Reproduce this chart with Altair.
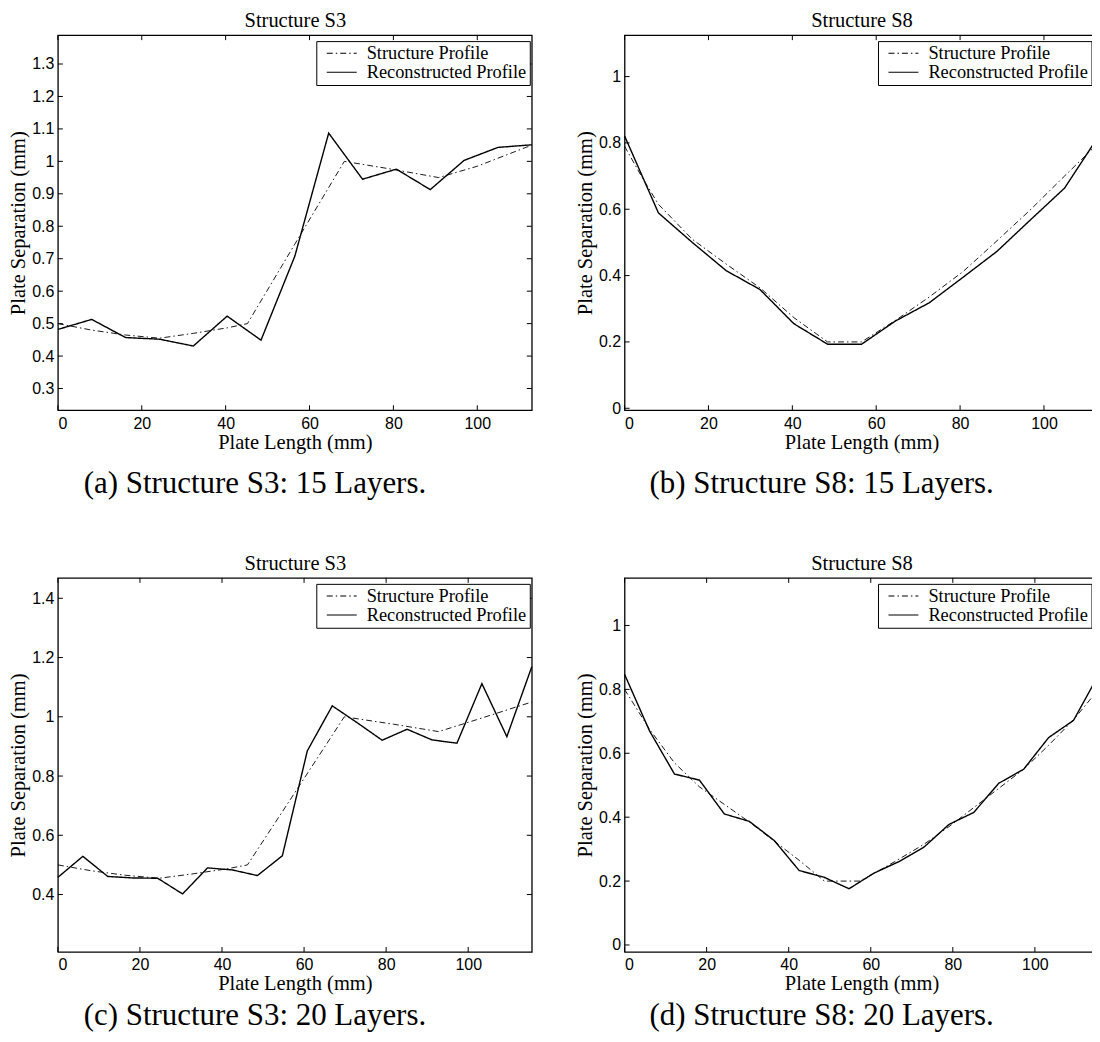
import altair as alt
import pandas as pd

SERIES = ["Structure Profile", "Reconstructed Profile"]
X_TICKS = [0, 20, 40, 60, 80, 100]

# ---------------- (a) Structure S3, 15 layers ----------------
a_struct_x = [0, 8.07, 16.1, 24.2, 32.3, 40.4, 45.2, 56.5, 68.3, 80.0, 90.8, 100.0, 113.0]
a_struct_y = [0.500, 0.480, 0.465, 0.455, 0.470, 0.487, 0.500, 0.745, 1.000, 0.975, 0.950, 0.985, 1.050]
a_rec_x = [0, 8.07, 16.14, 24.21, 32.29, 40.36, 48.43, 56.5, 64.57, 72.64, 80.71, 88.79, 96.86, 104.93, 113.0]
a_rec_y = [0.482, 0.513, 0.457, 0.452, 0.431, 0.523, 0.449, 0.708, 1.087, 0.945, 0.976, 0.913, 1.003, 1.043, 1.051]
a_ydom = [0.233, 1.389]
a_yticks = [0.3, 0.4, 0.5, 0.6, 0.7, 0.8, 0.9, 1.0, 1.1, 1.2, 1.3]

# ---------------- (b) Structure S8, 15 layers ----------------
b_struct_x = [0, 4.0, 8.07, 16.1, 24.2, 32.3, 40.4, 48.4, 56.5, 64.6, 72.6, 80.7, 88.8, 96.9, 104.9, 113.0]
b_struct_y = [0.790, 0.700, 0.615, 0.510, 0.435, 0.363, 0.273, 0.200, 0.200, 0.265, 0.335, 0.412, 0.505, 0.600, 0.700, 0.800]
b_rec_x = [0, 8.07, 16.14, 24.21, 32.29, 40.36, 48.43, 56.5, 64.57, 72.64, 80.71, 88.79, 96.86, 104.93, 113.0]
b_rec_y = [0.821, 0.589, 0.500, 0.415, 0.358, 0.255, 0.193, 0.193, 0.263, 0.318, 0.395, 0.473, 0.569, 0.664, 0.820]
b_ydom = [-0.006, 1.125]
b_yticks = [0, 0.2, 0.4, 0.6, 0.8, 1.0]

# ---------------- (c) Structure S3, 20 layers ----------------
c_struct_x = [0, 8.25, 16.5, 24.7, 33.0, 41.3, 46.2, 57.8, 69.8, 81.8, 92.8, 102.0, 115.5]
c_struct_y = [0.500, 0.480, 0.465, 0.455, 0.470, 0.487, 0.500, 0.745, 1.000, 0.975, 0.950, 0.990, 1.050]
c_rec_x = [0, 6.08, 12.16, 18.24, 24.32, 30.39, 36.47, 42.55, 48.63, 54.71, 60.79, 66.87, 72.95, 79.03,
           85.11, 91.18, 97.26, 103.34, 109.42, 115.5]
c_rec_y = [0.458, 0.529, 0.461, 0.456, 0.455, 0.402, 0.490, 0.483, 0.464, 0.531, 0.885, 1.037, 0.980, 0.921,
           0.958, 0.922, 0.911, 1.112, 0.933, 1.169]
c_ydom = [0.206, 1.469]
c_yticks = [0.4, 0.6, 0.8, 1.0, 1.2, 1.4]

# ---------------- (d) Structure S8, 20 layers ----------------
d_struct_x = [0, 6.08, 12.16, 18.24, 24.32, 30.39, 36.47, 42.55, 48.7, 57.5, 66.0, 72.95, 79.03, 85.11,
              91.18, 97.26, 103.34, 109.42, 115.5]
d_struct_y = [0.800, 0.675, 0.570, 0.495, 0.440, 0.385, 0.325, 0.265, 0.200, 0.200, 0.262, 0.315, 0.370, 0.430,
              0.490, 0.550, 0.625, 0.705, 0.800]
d_rec_x = c_rec_x
d_rec_y = [0.847, 0.670, 0.535, 0.516, 0.410, 0.387, 0.327, 0.233, 0.212, 0.176, 0.225, 0.261, 0.306, 0.377,
           0.415, 0.506, 0.550, 0.649, 0.703, 0.845]
d_ydom = [-0.022, 1.149]
d_yticks = [0, 0.2, 0.4, 0.6, 0.8, 1.0]

SERIF = "Liberation Serif"
SANS = "Liberation Sans"
W = 475


def make_panel(title, caption, sx, sy, rx, ry, xmax, ydom, yticks, h, cap_offset, leg_x):
    xs = alt.Scale(domain=[0, xmax], nice=False, zero=False)
    ys = alt.Scale(domain=ydom, nice=False, zero=False)
    dash_scale = alt.Scale(domain=SERIES, range=[[6, 3, 1.5, 3], [1, 0]])
    sdf = pd.DataFrame({"x": sx, "y": sy, "series": SERIES[0]})
    rdf = pd.DataFrame({"x": rx, "y": ry, "series": SERIES[1]})

    xaxis = alt.Axis(orient="bottom", title="Plate Length (mm)", values=X_TICKS, ticks=False,
                     domain=False, grid=False, labelFont=SANS, labelFontSize=16, labelPadding=5,
                     labelColor="black", titleFont=SERIF, titleFontSize=20.5,
                     titleFontWeight="normal", titlePadding=1, titleColor="black")
    yaxis = alt.Axis(orient="left", title="Plate Separation (mm)", values=yticks, format="~g",
                     ticks=False, domain=False, grid=False, labelFont=SANS, labelFontSize=16,
                     labelPadding=4, labelColor="black", titleFont=SERIF, titleFontSize=20.5,
                     titleFontWeight="normal", titlePadding=3, titleColor="black")
    topaxis = alt.Axis(orient="top", title=title, labels=False, ticks=False, domain=False,
                       grid=False, titleFont=SERIF, titleFontSize=20.5,
                       titleFontWeight="normal", titlePadding=4.5, titleColor="black")
    legend = alt.Legend(title=None, orient="none", legendX=leg_x, legendY=6,
                        symbolType="stroke", symbolSize=900, symbolStrokeColor="black",
                        symbolStrokeWidth=1.1, labelFont=SERIF, labelFontSize=18.4,
                        labelColor="black", labelOffset=9, symbolOffset=6.5, padding=3,
                        rowPadding=0, clipHeight=18.4, strokeColor="black",
                        fillColor="white")

    s_line = alt.Chart(sdf).mark_line(color="black", strokeWidth=0.9).encode(
        x=alt.X("x:Q", scale=xs, axis=None),
        y=alt.Y("y:Q", scale=ys, axis=yaxis),
        strokeDash=alt.StrokeDash("series:N", scale=dash_scale, legend=legend),
    )
    r_line = alt.Chart(rdf).mark_line(color="black", strokeWidth=1.4).encode(
        x=alt.X("x:Q", scale=xs, axis=xaxis),
        y=alt.Y("y:Q", scale=ys, axis=yaxis),
        strokeDash=alt.StrokeDash("series:N", scale=dash_scale, legend=legend),
    )

    ytk = pd.DataFrame({"v": yticks})
    xtk = pd.DataFrame({"v": X_TICKS})
    left = alt.Chart(ytk).mark_rule(color="black", strokeWidth=1).encode(
        y=alt.Y("v:Q", scale=ys, axis=yaxis), x=alt.value(0), x2=alt.value(5))
    right = alt.Chart(ytk).mark_rule(color="black", strokeWidth=1).encode(
        y=alt.Y("v:Q", scale=ys, axis=yaxis), x=alt.value(W - 5), x2=alt.value(W))
    bottom = alt.Chart(xtk).mark_rule(color="black", strokeWidth=1).encode(
        x=alt.X("v:Q", scale=xs, axis=None), y=alt.value(h - 5), y2=alt.value(h))
    top = alt.Chart(xtk).mark_rule(color="black", strokeWidth=1).encode(
        x=alt.X("v:Q", scale=xs, axis=topaxis), y=alt.value(0), y2=alt.value(5))

    return alt.layer(s_line, r_line, left, right, bottom, top).properties(
        width=W, height=h,
        title=alt.TitleParams(caption, orient="bottom", font=SERIF, fontSize=31,
                              fontWeight="normal", color="black", offset=cap_offset,
                              anchor="middle", frame="group", dx=-40),
    )


pa = make_panel("Structure S3", "(a) Structure S3: 15 Layers.", a_struct_x, a_struct_y,
                a_rec_x, a_rec_y, 113.0, a_ydom, a_yticks, 376, 16, 259)
pb = make_panel("Structure S8", "(b) Structure S8: 15 Layers.", b_struct_x, b_struct_y,
                b_rec_x, b_rec_y, 113.0, b_ydom, b_yticks, 376, 16, 254)
pc = make_panel("Structure S3", "(c) Structure S3: 20 Layers.", c_struct_x, c_struct_y,
                c_rec_x, c_rec_y, 115.5, c_ydom, c_yticks, 375, 7, 259)
pd_ = make_panel("Structure S8", "(d) Structure S8: 20 Layers.", d_struct_x, d_struct_y,
                 d_rec_x, d_rec_y, 115.5, d_ydom, d_yticks, 375, 7, 254)

chart = alt.concat(pa, pb, pc, pd_, columns=2, spacing={"row": 168, "column": 93},
                   bounds="flush").resolve_scale(
    strokeDash="independent"
).resolve_legend(
    strokeDash="independent"
).properties(
    padding={"left": 0, "top": 0, "right": -10.5, "bottom": 2},
    background="white",
).configure_view(stroke="black", strokeWidth=1.3)

chart.save("out.html", embed_options={"renderer": "svg", "actions": False})
